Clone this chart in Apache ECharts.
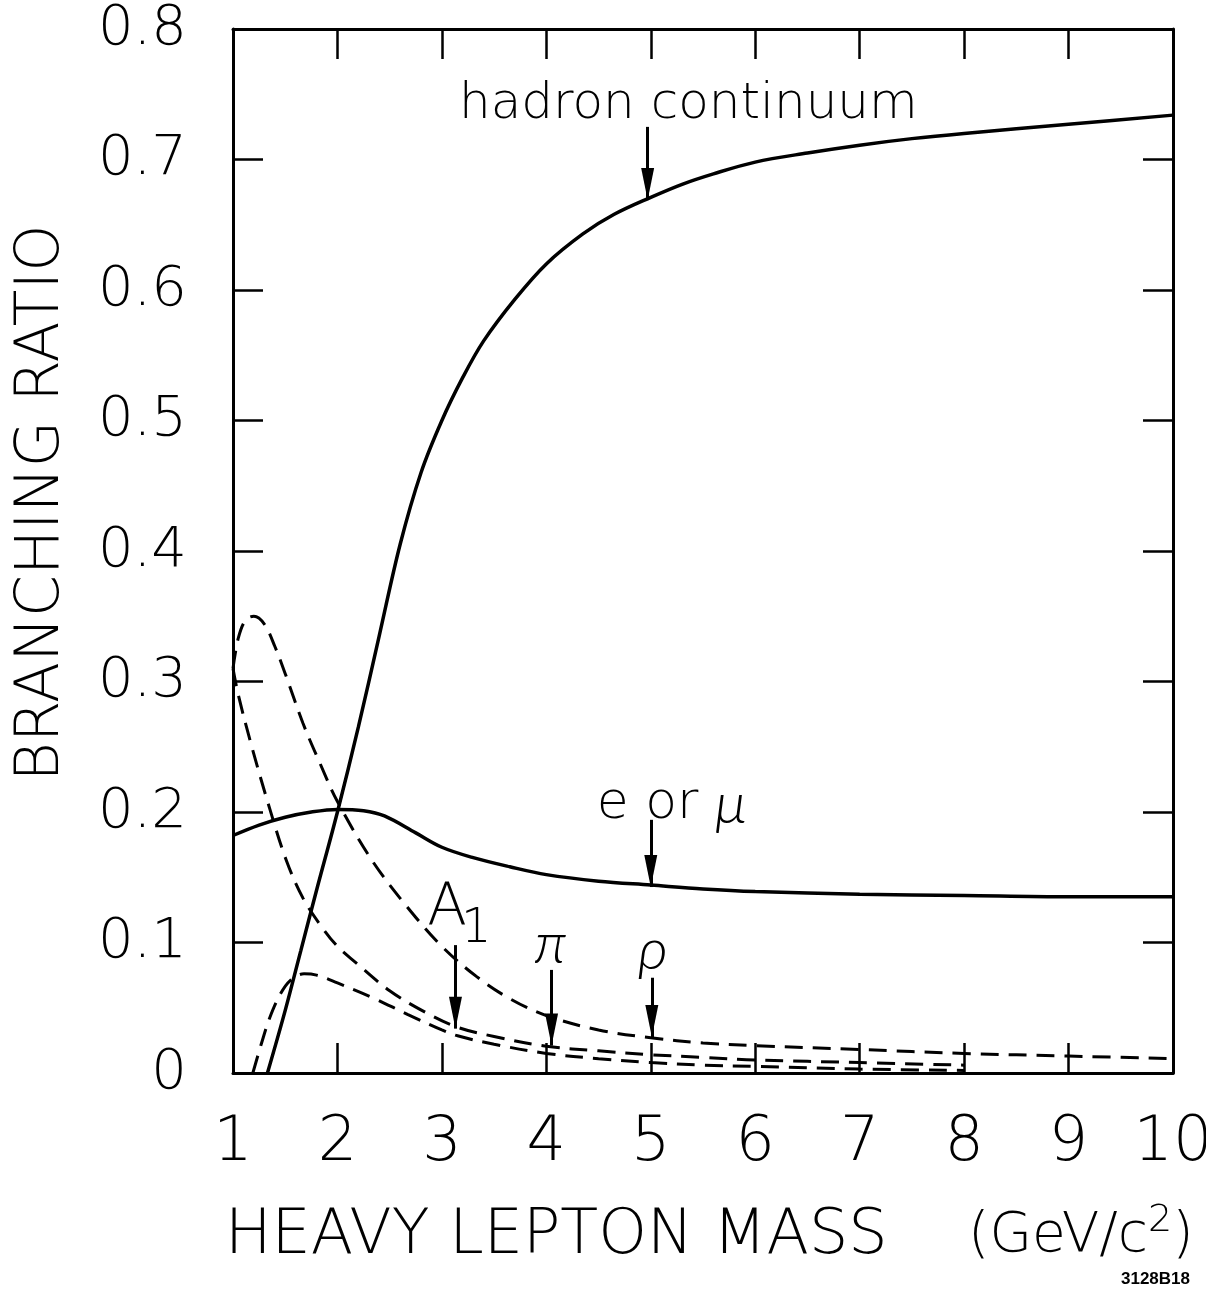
<!DOCTYPE html>
<html>
<head>
<meta charset="utf-8">
<script src="https://cdn.jsdelivr.net/npm/echarts@6/dist/echarts.min.js"></script>
<style>
  html, body { margin: 0; padding: 0; background: #fff; }
  #chart { width: 1206px; height: 1291px; }
</style>
</head>
<body>
<div id="chart"></div>
<script>
// heavy lepton mass (GeV/c^2) -> branching ratio
var hadronMass  = [1.33, 1.5, 1.65, 1.8, 2.0, 2.2, 2.4, 2.6, 2.8, 3.0, 3.2, 3.4, 3.7, 4.0, 4.35, 4.65, 5.0, 5.3, 5.6, 6.0, 6.5, 7.0, 7.5, 8.0, 9.0, 10];
var hadronRatio = [0, 0.048, 0.094, 0.14, 0.2, 0.265, 0.335, 0.405, 0.46, 0.5, 0.533, 0.561, 0.593, 0.62, 0.643, 0.658, 0.671, 0.681, 0.689, 0.698, 0.705, 0.711, 0.716, 0.72, 0.727, 0.734];

var leptonMass  = [1.0, 1.25, 1.5, 1.75, 2.0, 2.25, 2.45, 2.75, 3.0, 3.3, 3.65, 4.0, 4.5, 5.0, 5.5, 6.0, 7.0, 8.0, 9.0, 10];
var leptonRatio = [0.182, 0.19, 0.196, 0.2, 0.202, 0.201, 0.197, 0.184, 0.173, 0.165, 0.158, 0.152, 0.147, 0.144, 0.141, 0.139, 0.137, 0.136, 0.135, 0.135];

var rhoMass  = [1.0, 1.05, 1.12, 1.2, 1.3, 1.4, 1.5, 1.67, 1.84, 2.0, 2.33, 2.67, 3.0, 3.33, 3.65, 4.0, 4.5, 5.0, 5.5, 6.0, 7.0, 8.0, 9.0, 10];
var rhoRatio = [0.31, 0.333, 0.347, 0.35, 0.344, 0.327, 0.306, 0.268, 0.236, 0.208, 0.163, 0.127, 0.097, 0.074, 0.057, 0.044, 0.033, 0.027, 0.023, 0.021, 0.018, 0.015, 0.013, 0.011];

var pionMass  = [1.0, 1.05, 1.18, 1.35, 1.51, 1.67, 1.84, 2.0, 2.17, 2.5, 2.83, 3.15, 3.5, 4.0, 4.5, 5.0, 5.5, 6.0, 7.0, 8.0];
var pionRatio = [0.31, 0.29, 0.25, 0.203, 0.163, 0.134, 0.113, 0.097, 0.085, 0.063, 0.047, 0.035, 0.028, 0.0205, 0.017, 0.014, 0.012, 0.010, 0.008, 0.006];

var a1Mass  = [1.19, 1.27, 1.35, 1.45, 1.55, 1.68, 1.8, 2.0, 2.33, 2.67, 3.0, 3.15, 3.5, 4.0, 4.5, 5.0, 5.5, 6.0, 7.0, 8.0];
var a1Ratio = [0, 0.022, 0.042, 0.06, 0.071, 0.076, 0.075, 0.069, 0.058, 0.045, 0.033, 0.0285, 0.022, 0.015, 0.011, 0.008, 0.006, 0.005, 0.003, 0.002];

var xTickLabels = ['1', '2', '3', '4', '5', '6', '7', '8', '9', '10'];
var yTickLabels = ['0', '0.1', '0.2', '0.3', '0.4', '0.5', '0.6', '0.7', '0.8'];

// arrows: mass, tail ratio, tip ratio
var arrowMass = [4.97, 5.0, 3.13, 4.05, 5.01];
var arrowTail = [0.725, 0.194, 0.098, 0.079, 0.073];
var arrowTip  = [0.669, 0.1425, 0.034, 0.021, 0.0276];

// curve labels: text, mass, ratio
var labelText  = ['{h|hadron continuum}', '{n|e or }{i|\u03bc}', '{a|A}', '{s|1}', '{i|\u03c0}', '{i|\u03c1}'];
var labelMass  = [5.36, 5.2, 3.05, 3.33, 4.04, 5.02];
var labelRatio = [0.742, 0.206, 0.125, 0.11, 0.099, 0.094];

var FONT = 'DejaVu Sans';
var GREEK = 'Lato, "DejaVu Sans"';

function zip(xs, ys) {
  return xs.map(function (x, i) { return [x, ys[i]]; });
}

var chart = echarts.init(document.getElementById('chart'));

var frameAxisLine = { show: true, onZero: false, lineStyle: { color: '#000', width: 3 } };
var frameTick = { show: true, inside: true, length: 30, lineStyle: { color: '#000', width: 2.5 } };

function curve(name, xs, ys, dashed) {
  return {
    name: name,
    type: 'line',
    data: zip(xs, ys),
    smooth: 0.35,
    showSymbol: false,
    silent: true,
    lineStyle: { color: '#000', width: dashed ? 3 : 3.5, type: dashed ? [18, 10] : 'solid' }
  };
}

var hadron = curve('hadron continuum', hadronMass, hadronRatio, false);
hadron.markLine = {
  silent: true,
  symbol: ['none', 'triangle'],
  symbolSize: [13, 32],
  symbolOffset: [[0, 0], [0, 16]],
  lineStyle: { color: '#000', width: 3, type: 'solid' },
  label: { show: false },
  data: arrowMass.map(function (m, i) {
    return [{ coord: [m, arrowTail[i]] }, { coord: [m, arrowTip[i]] }];
  })
};
hadron.markPoint = {
  silent: true,
  symbol: 'circle',
  symbolSize: 0,
  itemStyle: { color: 'transparent' },
  label: {
    show: true,
    position: 'inside',
    color: '#000',
    formatter: function (p) { return labelText[p.dataIndex]; },
    rich: {
      h: { fontFamily: FONT, fontWeight: 200, fontSize: 50, color: '#000' },
      n: { fontFamily: FONT, fontWeight: 200, fontSize: 52, color: '#000' },
      i: { fontFamily: GREEK, fontWeight: 300, fontStyle: 'italic', fontSize: 58, color: '#000' },
      a: { fontFamily: FONT, fontWeight: 200, fontSize: 58, color: '#000' },
      s: { fontFamily: FONT, fontWeight: 200, fontSize: 48, color: '#000' }
    }
  },
  data: labelMass.map(function (m, i) {
    return { coord: [m, labelRatio[i]] };
  })
};

chart.setOption({
  animation: false,
  backgroundColor: '#fff',
  grid: { left: 233, right: 33, top: 29, bottom: 218, outerBoundsMode: 'none', containLabel: false },
  xAxis: [{
    type: 'value', min: 1, max: 10, interval: 1, position: 'bottom',
    axisLine: frameAxisLine, axisTick: frameTick, splitLine: { show: false },
    axisLabel: {
      color: '#000', fontFamily: FONT, fontWeight: 200, fontSize: 62, margin: 40,
      formatter: function (v) { return xTickLabels[Math.round(v) - 1]; }
    }
  }, {
    type: 'value', min: 1, max: 10, interval: 1, position: 'top',
    axisLine: frameAxisLine, axisTick: frameTick, splitLine: { show: false },
    axisLabel: { show: false }
  }],
  yAxis: [{
    type: 'value', min: 0, max: 0.8, interval: 0.1, position: 'left',
    axisLine: frameAxisLine, axisTick: frameTick, splitLine: { show: false },
    axisLabel: {
      color: '#000', fontFamily: FONT, fontWeight: 200, fontSize: 56, margin: 46,
      formatter: function (v) { return yTickLabels[Math.round(v * 10)]; }
    }
  }, {
    type: 'value', min: 0, max: 0.8, interval: 0.1, position: 'right',
    axisLine: frameAxisLine, axisTick: frameTick, splitLine: { show: false },
    axisLabel: { show: false }
  }],
  graphic: [{
    type: 'text',
    x: 42, y: 503, rotation: Math.PI / 2,
    style: {
      text: 'BRANCHING RATIO', fill: '#000',
      font: '200 60px "DejaVu Sans"', align: 'center', verticalAlign: 'middle'
    }
  }, {
    type: 'text',
    x: 225, y: 1237,
    style: {
      text: 'HEAVY LEPTON MASS', fill: '#000',
      font: '200 62px "DejaVu Sans"', align: 'left', verticalAlign: 'middle'
    }
  }, {
    type: 'text',
    x: 968, y: 1237,
    style: {
      text: '{p|(GeV/c}{sup|2}{p|)}', fill: '#000', align: 'left', verticalAlign: 'middle',
      rich: {
        p: { fontFamily: FONT, fontWeight: 200, fontSize: 55, lineHeight: 70 },
        sup: { fontFamily: FONT, fontWeight: 200, fontSize: 38, lineHeight: 70, verticalAlign: 'top' }
      }
    }
  }, {
    type: 'text',
    x: 1190, y: 1279,
    style: {
      text: '3128B18', fill: '#000',
      font: 'bold 17px "Liberation Sans Narrow", "Liberation Sans"', align: 'right', verticalAlign: 'middle'
    }
  }],
  series: [
    hadron,
    curve('e or \u03bc', leptonMass, leptonRatio, false),
    curve('\u03c1', rhoMass, rhoRatio, true),
    curve('\u03c0', pionMass, pionRatio, true),
    curve('A1', a1Mass, a1Ratio, true)
  ]
});
</script>
</body>
</html>
